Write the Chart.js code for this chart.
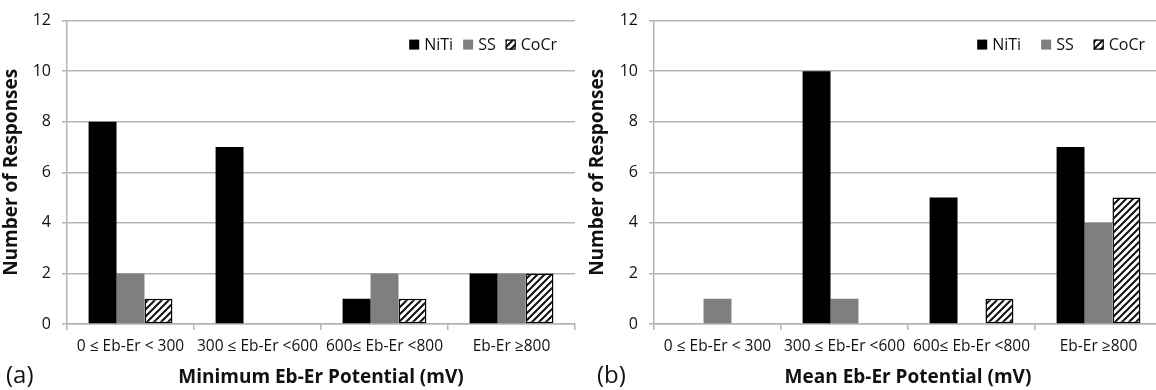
<!DOCTYPE html>
<html>
<head>
<meta charset="utf-8">
<script src="https://cdn.jsdelivr.net/npm/chart.js@4.4.1/dist/chart.umd.min.js"></script>
<style>
    html, body { margin: 0; padding: 0; background: #fff; overflow: hidden; width: 1156px; height: 390px; position: relative; }
    .panel { position: absolute; top: 0; height: 390px; }
    #pa { left: 0; width: 578px; }
    #pb { left: 576px; width: 600px; }
    .tag { position: absolute; font-family: 'Open Sans'; font-size: 24px; color: #111; line-height: 1; }
</style>
</head>
<body>
<div class="panel" id="pa"><canvas id="ca"></canvas></div>
<div class="panel" id="pb"><canvas id="cb"></canvas></div>
<div class="tag" style="left:6px;top:362px">(a)</div>
<div class="tag" style="left:597px;top:362px">(b)</div>
<script>
const categories = ['0 ≤ Eb-Er < 300', '300 ≤ Eb-Er <600', '600≤ Eb-Er <800', 'Eb-Er ≥800']
const seriesNames = ['NiTi', 'SS', 'CoCr']
const yTicks = [0, 2, 4, 6, 8, 10, 12]

// (a) minimum potential
const minNiTi = [8, 7, 1, 2]
const minSS = [2, 0, 2, 2]
const minCoCr = [1, 0, 1, 2]

// (b) mean potential
const meanNiTi = [0, 10, 5, 7]
const meanSS = [1, 1, 0, 4]
const meanCoCr = [0, 0, 1, 5]

const textColor = '#111'
const gridColor = '#b3b3b3'
const family = "'Open Sans', sans-serif"

function hatch() {
    const s = 7
    const c = document.createElement('canvas')
    c.width = s
    c.height = s
    const ctx = c.getContext('2d')
    ctx.fillStyle = '#fff'
    ctx.fillRect(0, 0, s, s)
    ctx.strokeStyle = '#111'
    ctx.lineWidth = 2
    ctx.beginPath()
    ctx.moveTo(-1, s + 1); ctx.lineTo(s + 1, -1)
    ctx.moveTo(-1, 1); ctx.lineTo(1, -1)
    ctx.moveTo(s - 1, s + 1); ctx.lineTo(s + 1, s - 1)
    ctx.stroke()
    return ctx.createPattern(c, 'repeat')
}

// legend sits inside the plot, top right, in one row
const inlineLegend = {
    id: 'inlineLegend',
    afterDraw(chart, args, opts) {
        const { ctx, chartArea } = chart
        const box = 10
        ctx.save()
        ctx.font = `16px ${family}`
        ctx.textBaseline = 'middle'
        const items = chart.data.datasets.map(ds => ({ ds, w: ctx.measureText(ds.label).width }))
        let total = items.reduce((sum, it) => sum + box + 5 + it.w, 0) + opts.gap * (items.length - 1)
        let x = chartArea.right - opts.margin - total
        const y = chartArea.top + opts.top
        items.forEach(({ ds, w }) => {
            ctx.fillStyle = ds.backgroundColor
            ctx.fillRect(x, y - box / 2, box, box)
            if (ds.borderWidth) {
                ctx.strokeStyle = ds.borderColor
                ctx.lineWidth = 1.2
                ctx.strokeRect(x + 0.5, y - box / 2 + 0.5, box - 1, box - 1)
            }
            ctx.fillStyle = textColor
            ctx.fillText(ds.label, x + box + 5, y + 1)
            x += box + 5 + w + opts.gap
        })
        ctx.restore()
    }
}

function makeChart(id, niti, ss, cocr, xTitle, opts) {
    const pattern = hatch()
    return new Chart(document.getElementById(id), {
        type: 'bar',
        data: {
            labels: categories,
            datasets: [
                { label: seriesNames[0], data: niti, backgroundColor: '#000', borderWidth: 0 },
                { label: seriesNames[1], data: ss, backgroundColor: '#7f7f7f', borderWidth: 0 },
                { label: seriesNames[2], data: cocr, backgroundColor: pattern, borderColor: '#000', borderWidth: 1.5, borderSkipped: false }
            ]
        },
        options: {
            responsive: true,
            maintainAspectRatio: false,
            animation: false,
            categoryPercentage: 0.66,
            barPercentage: 1,
            layout: { padding: { top: 19, right: opts.right, left: 0, bottom: 0 } },
            plugins: {
                tooltip: { enabled: false },
                legend: { display: false },
                inlineLegend: { gap: opts.legendGap, margin: opts.legendMargin, top: 24 }
            },
            scales: {
                x: {
                    offset: true,
                    grid: { offset: true, drawOnChartArea: false, drawTicks: true, tickLength: 6, color: gridColor, lineWidth: 1.5 },
                    border: { color: gridColor, width: 1.5 },
                    ticks: { color: textColor, font: { family, size: 15.5 }, padding: 7, maxRotation: 0, autoSkip: false },
                    title: { display: true, text: xTitle, color: textColor, font: { family, size: 19, weight: 'bold' }, padding: { top: 0, bottom: 1 } },
                    afterFit: scale => { scale.height = 66 }
                },
                y: {
                    min: 0,
                    max: 12,
                    afterBuildTicks: scale => { scale.ticks = yTicks.map(value => ({ value })) },
                    grid: { color: gridColor, lineWidth: 1.5, tickLength: 5 },
                    border: { color: gridColor, width: 1.5 },
                    ticks: { color: textColor, font: { family, size: 16 }, padding: 11 },
                    title: { display: true, text: 'Number of Responses', color: textColor, font: { family, size: 19, weight: 'bold' }, padding: { top: opts.yTitlePad, bottom: 0 } },
                    afterFit: scale => { scale.width = opts.axisLeft }
                }
            }
        },
        plugins: [inlineLegend]
    })
}

makeChart('ca', minNiTi, minSS, minCoCr, 'Minimum Eb-Er Potential (mV)', { right: 3, axisLeft: 67, legendGap: 10, legendMargin: 18, yTitlePad: 0 })
makeChart('cb', meanNiTi, meanSS, meanCoCr, 'Mean Eb-Er Potential (mV)', { right: 14, axisLeft: 78, legendGap: 20, legendMargin: 17, yTitlePad: 10 })
</script>
</body>
</html>
